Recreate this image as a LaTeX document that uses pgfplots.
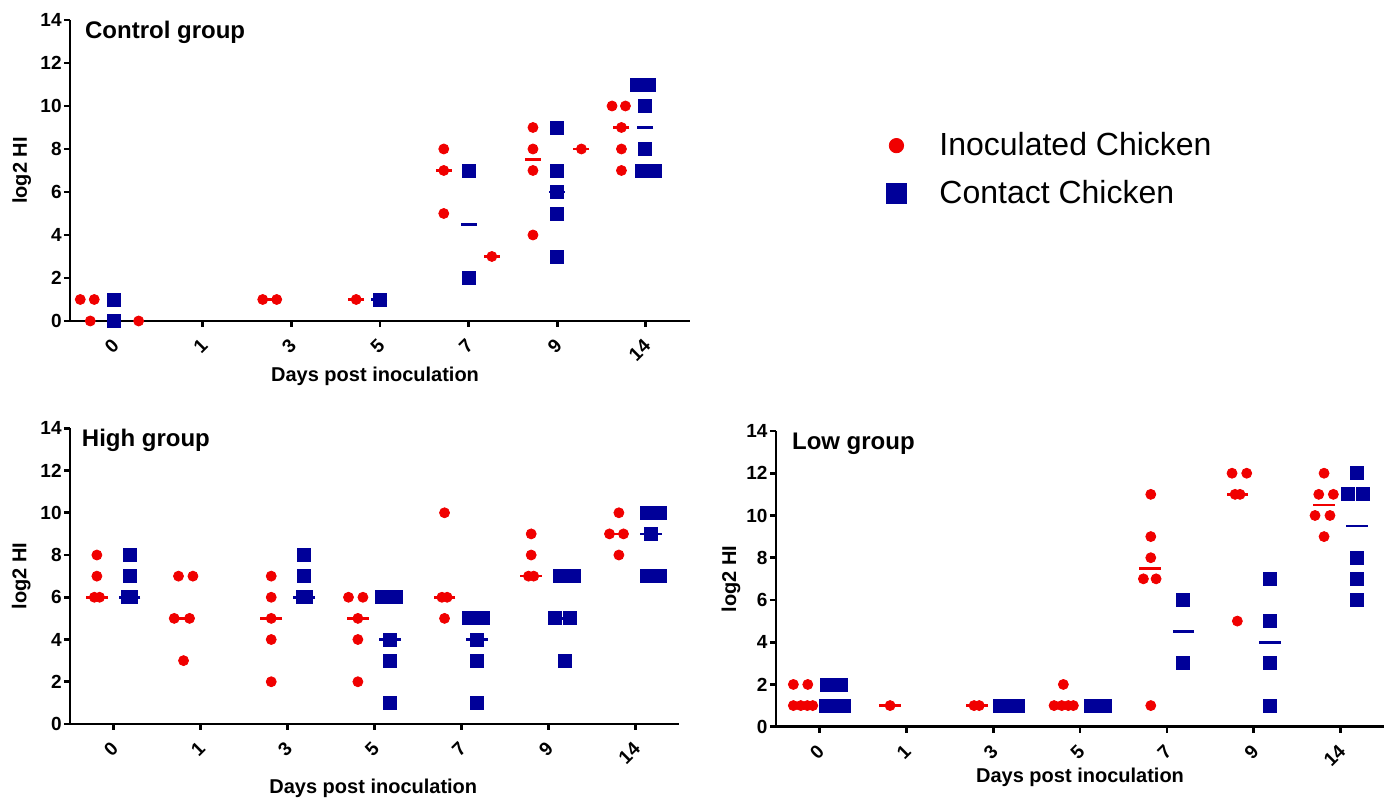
\documentclass[border=0pt]{standalone}
\usepackage{fontspec}
\setmainfont{Liberation Sans}
\usepackage{pgfplots}
\pgfplotsset{compat=1.18}
\definecolor{cred}{RGB}{240,0,0}
\definecolor{cblue}{RGB}{0,0,153}
\tikzset{ttl/.style={anchor=west, font=\fontsize{12}{14}\selectfont\bfseries}}
\pgfplotsset{
  panel/.style={
    scale only axis,
    axis lines=left,
    axis line style={-, line width=1.4pt, black},
    every tick/.style={black, line width=1.4pt},
    tick align=outside,
    major tick length=3pt,
    xmin=-0.5, xmax=6.5, ymin=0, ymax=14,
    xtick={0,...,6},
    xticklabels={0,1,3,5,7,9,14},
    ytick={0,2,...,14},
    minor tick num=0,
    tick label style={font=\fontsize{9.5}{11}\selectfont\bfseries},
    /pgf/number format/assume math mode=true,
    xticklabel style={rotate=45, anchor=east, inner sep=1pt, xshift=-3.9pt, yshift=-6pt},
    yticklabel style={inner sep=1pt},
    xlabel={Days post inoculation},
    ylabel={log2 HI},
    label style={font=\fontsize{10}{12}\selectfont\bfseries},
    clip=false,
  },
  redpts/.style={only marks, mark=*, mark size=2.5pt, color=cred, mark options={draw=none, fill=cred}},
  bluepts/.style={only marks, mark=square*, mark size=3.25pt, color=cblue, mark options={draw=none, fill=cblue}},
  redmed/.style={only marks, mark=-, mark size=#1, color=cred, mark options={line width=1.35pt}},
  bluemed/.style={only marks, mark=-, mark size=#1, color=cblue, mark options={line width=1.35pt}},
}
\begin{document}
\begin{tikzpicture}
\path[use as bounding box] (0pt,0pt) rectangle (696pt,400.5pt);

% ---------------- Control group ----------------
\begin{axis}[panel, at={(35pt,240pt)}, anchor=south west, width=310pt, height=150.5pt,
  ylabel style={at={(axis description cs:-0.078,0.5)}, anchor=center},
  xlabel style={at={(axis description cs:0.492,-0.183)}, anchor=center}]
\addplot[redpts] coordinates {
 (-0.384,1) (-0.226,1) (-0.271,0) (0.275,0) (1.676,1) (1.834,1) (2.731,1)
 (3.720,8) (3.720,7) (3.720,5) (4.263,3)
 (4.727,9) (4.727,8) (4.727,7) (4.727,4) (5.274,8)
 (5.620,10) (5.771,10) (5.726,9) (5.726,8) (5.726,7)};
\addplot[bluepts] coordinates {
 (0,1) (0,0) (2.994,1) (4.0,7) (4.0,2)
 (4.994,9) (4.994,7) (4.994,6) (4.994,5) (4.994,3)
 (5.895,11) (6.037,11) (5.992,10) (5.992,8) (5.959,7) (6.102,7)};
\addplot[redmed=4pt] coordinates {(1.755,1) (2.731,1) (3.720,7) (4.263,3) (4.727,7.5) (5.274,8) (5.726,9)};
\addplot[bluemed=4pt] coordinates {(2.994,1) (4.0,4.5) (4.994,6) (5.992,9)};
\node[ttl] at (axis description cs:0.013,0.96) {Control group};
\end{axis}

% ---------------- High group ----------------
\begin{axis}[panel, at={(35pt,38.5pt)}, anchor=south west, width=304.5pt, height=147.85pt,
  ylabel style={at={(axis description cs:-0.080,0.5)}, anchor=center},
  xlabel style={at={(axis description cs:0.498,-0.216)}, anchor=center}]
\addplot[redpts] coordinates {
 (-0.22,6) (-0.16,6) (-0.191,7) (-0.191,8)
 (0.747,7) (0.913,7) (0.698,5) (0.874,5) (0.805,3)
 (1.813,7) (1.813,6) (1.813,5) (1.813,4) (1.813,2)
 (2.701,6) (2.867,6) (2.809,5) (2.809,4) (2.809,2)
 (3.805,10) (3.775,6) (3.835,6) (3.805,5)
 (4.801,9) (4.801,8) (4.77,7) (4.83,7)
 (5.809,10) (5.701,9) (5.862,9) (5.809,8)};
\addplot[bluepts] coordinates {
 (0.164,6) (0.204,6) (0.184,7) (0.184,8)
 (2.172,6) (2.212,6) (2.192,7) (2.192,8)
 (3.085,6) (3.246,6) (3.180,4) (3.180,3) (3.180,1)
 (4.080,5) (4.246,5) (4.177,4) (4.177,3) (4.177,1)
 (5.134,7) (5.287,7) (5.077,5) (5.241,5) (5.184,3)
 (6.131,10) (6.284,10) (6.180,9) (6.131,7) (6.284,7)};
\addplot[redmed=5.4pt] coordinates {(-0.191,6) (0.79,5) (1.813,5) (2.809,5) (3.805,6) (4.801,7) (5.78,9)};
\addplot[bluemed=5.4pt] coordinates {(0.184,6) (2.192,6) (3.180,4) (4.177,4) (5.16,5) (6.180,9)};
\node[ttl] at (axis description cs:0.008,0.96) {High group};
\end{axis}

% ---------------- Low group ----------------
\begin{axis}[panel, at={(387.95pt,37.15pt)}, anchor=south west, width=304.15pt, height=147.85pt,
  ylabel style={at={(axis description cs:-0.074,0.5)}, anchor=center},
  xlabel style={at={(axis description cs:0.5,-0.172)}, anchor=center}]
\addplot[redpts] coordinates {
 (-0.299,2) (-0.133,2) (-0.299,1) (-0.214,1) (-0.138,1) (-0.076,1)
 (0.814,1) (1.78,1) (1.84,1)
 (2.701,1) (2.789,1) (2.865,1) (2.923,1) (2.808,2)
 (3.814,11) (3.814,9) (3.814,8) (3.729,7) (3.875,7) (3.814,1)
 (4.749,12) (4.918,12) (4.784,11) (4.841,11) (4.81,5)
 (5.808,12) (5.747,11) (5.915,11) (5.704,10) (5.876,10) (5.808,9)};
\addplot[bluepts] coordinates {
 (0.085,2) (0.246,2) (0.081,1) (0.184,1) (0.288,1)
 (2.083,1) (2.186,1) (2.290,1)
 (3.129,1) (3.291,1)
 (4.189,6) (4.189,3)
 (5.186,7) (5.186,5) (5.186,3) (5.186,1)
 (6.184,12) (6.081,11) (6.253,11) (6.184,8) (6.184,7) (6.184,6)};
\addplot[redmed=5.4pt] coordinates {(0.814,1) (1.811,1) (3.806,7.5) (4.81,11) (5.808,10.5)};
\addplot[bluemed=5.4pt] coordinates {(3.21,1) (4.189,4.5) (5.186,4) (6.184,9.5)};
\node[ttl] at (axis description cs:0.015,0.956) {Low group};
\end{axis}

% ---------------- Legend ----------------
\begin{axis}[hide axis, scale only axis, at={(0pt,0pt)}, anchor=south west,
  width=696pt, height=400.5pt, xmin=0, xmax=1392, ymin=0, ymax=801,
  legend style={at={(axis description cs:0.6365,0.840)}, anchor=north west,
    draw=none, fill=none, inner sep=0pt, row sep=7pt, column sep=14.5pt,
    font=\fontsize{16}{19}\selectfont, cells={anchor=west}},
  legend entries={Inoculated Chicken, Contact Chicken}]
\addlegendimage{only marks, mark=*, mark size=3.6pt, color=cred, mark options={draw=none, fill=cred}}
\addlegendimage{only marks, mark=square*, mark size=5pt, color=cblue, mark options={draw=none, fill=cblue}}
\end{axis}
\end{tikzpicture}
\end{document}
